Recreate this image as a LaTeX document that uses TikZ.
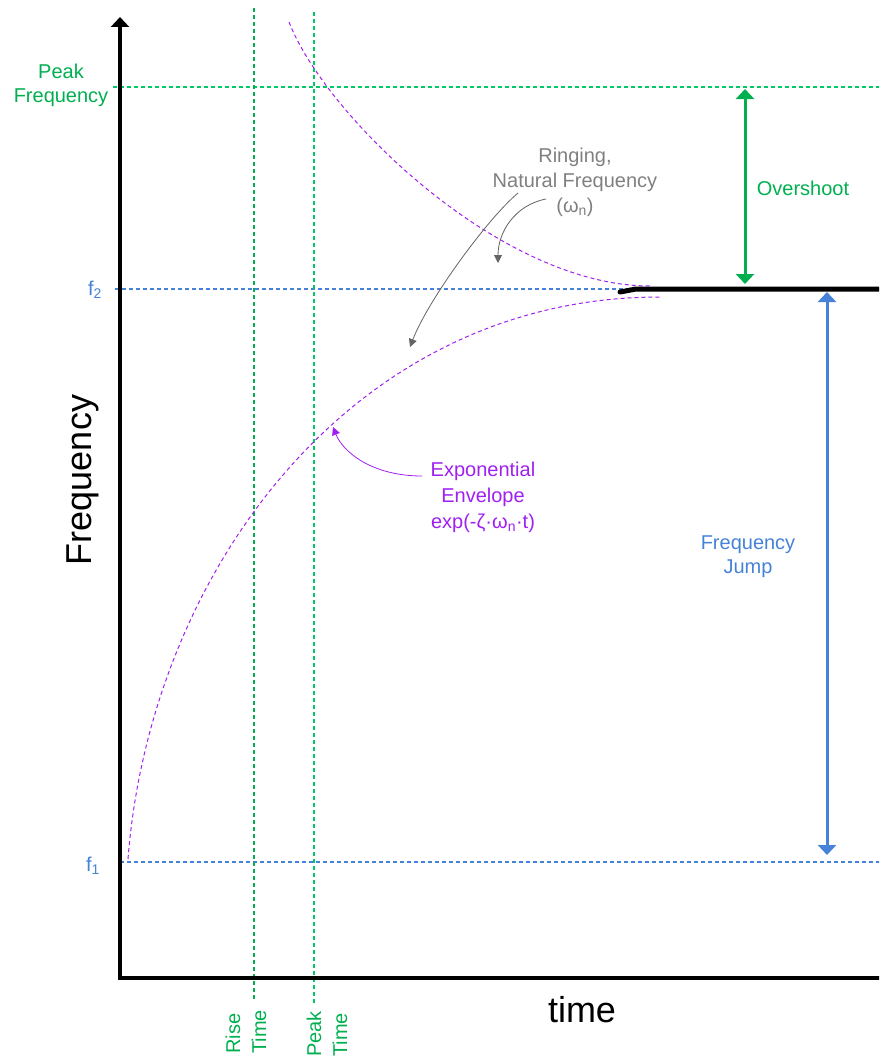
\documentclass[tikz,border=0pt]{standalone}
\usepackage{fontspec}
\setmainfont{Liberation Sans}
\usetikzlibrary{arrows.meta}
\definecolor{grn}{RGB}{0,176,80}
\definecolor{grnl}{RGB}{0,200,100}
\definecolor{blu}{RGB}{70,130,215}
\definecolor{pur}{RGB}{160,32,240}
\definecolor{gtxt}{RGB}{128,128,128}
\definecolor{garr}{RGB}{100,100,100}
\tikzset{
  lbl/.style={font=\fontsize{20}{24}\selectfont, align=center, inner sep=0pt},
  big/.style={font=\fontsize{36}{40}\selectfont, inner sep=0pt},
  guide/.style={line width=1.1pt, dash pattern=on 4pt off 3pt},
  env/.style={pur, line width=1pt, dash pattern=on 4pt off 3pt},
  dimarrow/.style={line width=3pt, {Triangle[width=18pt,length=10pt]}-{Triangle[width=18pt,length=10pt]}},
  callout/.style={line width=0.8pt, -{Triangle[width=8pt,length=8pt]}},
}
\begin{document}
\begin{tikzpicture}[x=1pt,y=-1pt]
\useasboundingbox (0,0) rectangle (879,1057);
\clip (0,0) rectangle (879,1057);

% guide coordinates
\coordinate (pfL) at (113,87);  \coordinate (pfR) at (880,87);
\coordinate (f2L) at (115,289); \coordinate (f2R) at (880,289);
\coordinate (f1L) at (120,862); \coordinate (f1R) at (880,862);
\coordinate (rtT) at (254,8);   \coordinate (rtB) at (254,1000);
\coordinate (ptT) at (314,12);  \coordinate (ptB) at (314,1003);

\draw[guide, grnl] (pfL) -- (pfR);
\draw[guide, blu] (f2L) -- (f2R);
\draw[guide, blu] (f1L) -- (f1R);
\draw[guide, grn] (rtT) -- (rtB);
\draw[guide, grnl] (ptT) -- (ptB);

% envelopes
\coordinate (uS) at (289,22);  \coordinate (uE) at (650,286);
\coordinate (lS) at (128,859); \coordinate (lE) at (660,297);
\draw[env] (uS) .. controls (325,115) and (500,286) .. (uE);
\draw[env] (lS) .. controls (150,575) and (350,297) .. (lE);

% response
\draw[line width=5pt, line cap=round] (620,292) -- (636,289) -- (885,289);

% axes
\coordinate (ytop) at (120,17);
\coordinate (xend) at (892,978);
\draw[line width=4pt, -{Triangle[width=18pt,length=10pt]}] (120,980) -- (ytop);
\draw[line width=4pt, -{Triangle[width=18pt,length=10pt]}] (118,978) -- (xend);

% labels
\node[lbl, text=grn] (pf) at (61,85) {Peak\\Frequency};
\node[lbl, text=blu] (f2) at (95,290) {f\textsubscript{2}};
\node[lbl, text=blu] (f1) at (93,866) {f\textsubscript{1}};
\node[big, rotate=90] (ylab) at (83,480) {Frequency};
\node[big] (xlab) at (582,1010) {time};
\node[lbl, text=grn, rotate=90, align=left, anchor=west, font=\fontsize{20}{26}\selectfont] (rt) at (246,1054) {Rise\\Time};
\node[lbl, text=grn, rotate=90, align=left, anchor=west, font=\fontsize{20}{26}\selectfont] (pt) at (327,1057) {Peak\\Time};

\node[lbl, text=gtxt, font=\fontsize{20}{25}\selectfont] (ring) at (575,182) {Ringing,\\Natural Frequency\\(ω\textsubscript{n})};
\node[lbl, text=pur, font=\fontsize{20}{26}\selectfont] (expo) at (483,497) {Exponential\\Envelope\\exp(-ζ·ω\textsubscript{n}·t)};
\node[lbl, text=grn] (over) at (803,188) {Overshoot};
\node[lbl, text=blu] (jump) at (748,557) {Frequency\\Jump};

% dimension arrows
\coordinate (osT) at (745,89);  \coordinate (osB) at (745,284);
\coordinate (fjT) at (827,292); \coordinate (fjB) at (827,855);
\draw[dimarrow, grn] (osT) -- (osB);
\draw[dimarrow, blu] (fjT) -- (fjB);

% callouts
\coordinate (r1s) at (518,193); \coordinate (r1e) at (410,347);
\coordinate (r2s) at (546,199); \coordinate (r2e) at (498,263);
\coordinate (e1s) at (422,476); \coordinate (e1e) at (333,427);
\draw[callout, garr] (r1s) .. controls (488,218) and (428,300) .. (r1e);
\draw[callout, garr] (r2s) .. controls (515,205) and (498,232) .. (r2e);
\draw[callout, pur] (e1s) .. controls (372,476) and (343,452) .. (e1e);
\end{tikzpicture}
\end{document}
